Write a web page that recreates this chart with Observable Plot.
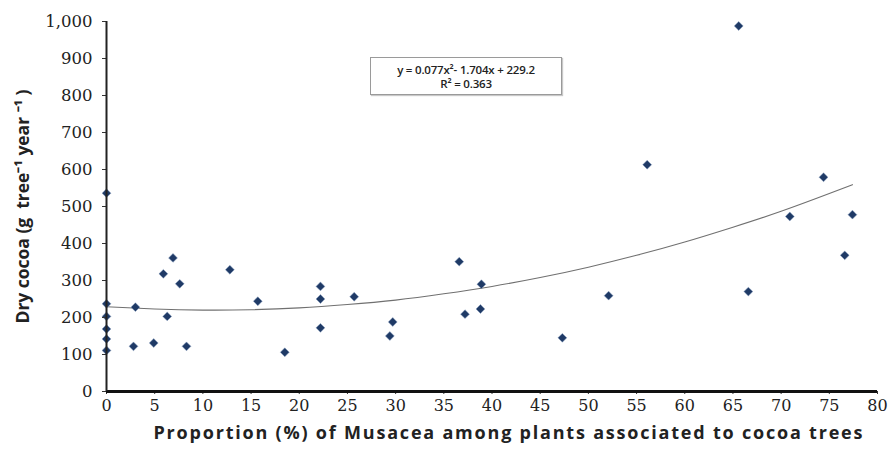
<!DOCTYPE html>
<html>
<head>
<meta charset="utf-8">
<script src="https://cdn.jsdelivr.net/npm/d3@7"></script>
<script src="https://cdn.jsdelivr.net/npm/@observablehq/plot@0.6"></script>
<style>
  html, body { margin: 0; padding: 0; background: #fff; }
  #wrap { position: relative; width: 888px; height: 450px; }
  #eq {
    position: absolute; left: 370px; top: 57px; width: 192px; height: 38px;
    border: 1px solid #9a9a9a; box-shadow: 1px 1px 1px #c8c8c8;
    font-family: "Open Sans", "Liberation Sans", sans-serif; font-size: 11.5px; font-weight: 600; color: #222;
    text-align: center; line-height: 14px; padding-top: 5px; box-sizing: border-box; background: #fff;
    letter-spacing: -0.2px;
  }
</style>
</head>
<body>
<div id="wrap"></div>
<script>
// Proportion (%) of Musacea
const propMusacea = [0, 0, 0, 0, 0, 0, 2.8, 3.0, 4.9, 5.9, 6.3, 6.9, 7.6, 8.3, 12.8, 15.7, 18.5,
  22.2, 22.2, 22.2, 25.7, 29.7, 29.4, 36.6, 37.2, 38.9, 38.8, 47.3, 52.1, 56.1, 65.6, 66.6, 70.9, 74.4, 76.6, 77.4];
// Dry cocoa (g tree-1 year-1)
const dryCocoa = [536, 237, 203, 169, 142, 111, 122, 228, 131, 318, 203, 361, 291, 122, 329, 244, 106,
  284, 250, 172, 256, 188, 150, 351, 209, 290, 223, 145, 259, 613, 988, 270, 473, 579, 368, 478];

// Trend curve (y = 0.077x² - 1.704x + 229.2)
const trendX = [0, 5, 10, 15, 20, 25, 30, 35, 40, 45, 50, 55, 60, 65, 70, 75, 77.4];
const trendY = [229, 223, 220, 221, 226, 235, 247, 264, 284, 308, 336, 368, 404, 444, 487, 535, 559];

const xTicks = [0, 5, 10, 15, 20, 25, 30, 35, 40, 45, 50, 55, 60, 65, 70, 75, 80];
const yTicks = [0, 100, 200, 300, 400, 500, 600, 700, 800, 900, 1000];

const xLabel = "Proportion (%) of Musacea among plants associated to cocoa trees";
const yLabel = "Dry cocoa (g  tree\u207B\u00B9 year \u207B\u00B9 )";
const eqLines = ["y = 0.077x\u00B2- 1.704x + 229.2", "R\u00B2 = 0.363"];

const points = propMusacea.map((x, i) => ({x, y: dryCocoa[i]}));
const trend = trendX.map((x, i) => ({x, y: trendY[i]}));

const serif = "DejaVu Serif";
const sans = "Open Sans";

const chart = Plot.plot({
  width: 888,
  height: 450,
  marginLeft: 106,
  marginRight: 11,
  marginTop: 21,
  marginBottom: 59,
  x: {domain: [0, 80]},
  y: {domain: [0, 1000]},
  style: {fontFamily: serif, color: "#222", background: "#fff"},
  marks: [
    Plot.line(trend, {x: "x", y: "y", curve: "natural", stroke: "#707070", strokeWidth: 1.1}),
    Plot.dot(points, {x: "x", y: "y", symbol: "diamond2", r: 4, fill: "#1f3a66", stroke: "#8aa0c0", strokeWidth: 0.5}),
    Plot.axisX({ticks: xTicks, tickSize: 3, tickPadding: 5, fontSize: 16, fontFamily: serif, label: null, stroke: "#333", fill: "#222"}),
    Plot.axisY({ticks: yTicks, tickFormat: d3.format(","), tickSize: 4, tickPadding: 10, fontSize: 16.5, fontFamily: serif, label: null, stroke: "#333", fill: "#222"}),
    Plot.ruleY([0], {stroke: "#111", strokeWidth: 3}),
    Plot.ruleX([0], {stroke: "#222", strokeWidth: 2}),
    Plot.text([xLabel], {text: d => d, frameAnchor: "bottom", textAnchor: "middle", dx: 16, dy: 47, fontSize: 18, fontWeight: 700, fontFamily: sans, fill: "#222", className: "xlab"}),
    Plot.text([yLabel], {text: d => d, frameAnchor: "left", textAnchor: "middle", dx: -83, dy: 0, rotate: -90, fontSize: 18, fontWeight: 700, fontFamily: sans, fill: "#222", className: "ylab"})
  ]
});

const wrap = document.getElementById("wrap");
wrap.appendChild(chart);
// stretch axis titles to the spacing of the original
d3.select(chart).select("g.xlab text").attr("textLength", 709).attr("lengthAdjust", "spacing");
d3.select(chart).select("g.ylab text").attr("textLength", 234).attr("lengthAdjust", "spacingAndGlyphs");
const eq = document.createElement("div");
eq.id = "eq";
eq.innerHTML = eqLines.map(t => `<div>${t}</div>`).join("");
wrap.appendChild(eq);
</script>
</body>
</html>
